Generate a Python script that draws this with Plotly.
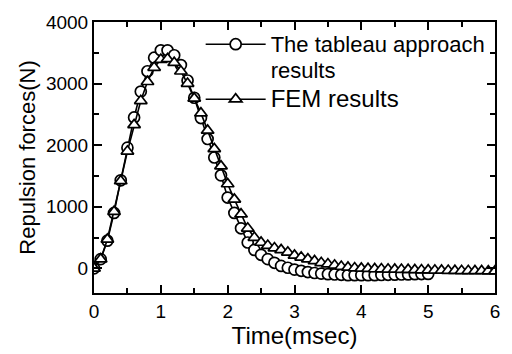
import plotly.graph_objects as go

t_tab = [round(0.1 * i, 1) for i in range(51)]
f_tab = [0, 150, 450, 900, 1430, 1960, 2450, 2870, 3200, 3420,
         3540, 3540, 3460, 3300, 3050, 2770, 2440, 2100, 1800, 1510,
         1150, 900, 650, 420, 300, 220, 150, 90, 40, 10,
         -20, -40, -60, -75, -85, -95, -100, -105, -110, -110,
         -110, -110, -110, -108, -105, -102, -100, -98, -95, -92, -90]

t_fem = [round(0.1 * i, 1) for i in range(61)]
f_fem = [0, 150, 470, 920, 1420, 1900, 2330, 2720, 3030, 3260,
         3390, 3400, 3340, 3200, 3000, 2760, 2520, 2240, 1940, 1660,
         1370, 1120, 880, 650, 500, 420, 370, 330, 300, 260,
         210, 180, 150, 120, 90, 70, 50, 30, 15, 5,
         0, -5, -10, -12, -15, -18, -20, -22, -25, -28,
         -30, -32, -34, -36, -38, -40, -40, -42, -42, -44, -45]

x_ticks = [0, 1, 2, 3, 4, 5, 6]
y_ticks = [0, 1000, 2000, 3000, 4000]

font = "Liberation Sans, Arial, sans-serif"

fig = go.Figure()
fig.add_trace(go.Scatter(
    x=t_tab, y=f_tab, mode="lines+markers",
    name='<span style="font-size:22px">The tableau approach</span><br>'
         '<span style="font-size:22px">results</span>',
    legendgroup="a",
    line=dict(color="black", width=1.6),
    marker=dict(symbol="circle", size=11, color="white",
                line=dict(color="black", width=1.7)),
))
fig.add_trace(go.Scatter(
    x=t_fem, y=f_fem, mode="lines+markers",
    name='<span style="font-size:24px">FEM results</span>',
    legendgroup="b",
    line=dict(color="black", width=1.6),
    marker=dict(symbol="triangle-up", size=11, color="white",
                line=dict(color="black", width=1.7)),
))

axis_common = dict(
    showgrid=False, zeroline=False, showline=True, linecolor="black",
    linewidth=2, mirror="ticks", ticks="inside", ticklen=8, tickwidth=1.5,
    tickcolor="black", tickfont=dict(family=font, size=19, color="black"),
)

fig.update_xaxes(
    range=[0, 6], tickvals=x_ticks,
    minor=dict(dtick=0.5, ticks="inside", ticklen=5, tickwidth=1.5, tickcolor="black"),
    title=dict(text="Time(msec)", font=dict(family=font, size=24, color="black"), standoff=2),
    **axis_common,
)
fig.update_yaxes(
    range=[-400, 4000], tickvals=y_ticks,
    minor=dict(dtick=500, ticks="inside", ticklen=5, tickwidth=1.5, tickcolor="black"),
    title=dict(text="Repulsion forces(N)", font=dict(family=font, size=22, color="black"), standoff=4),
    **axis_common,
)

fig.update_layout(
    width=512, height=354,
    margin=dict(l=94, r=12, t=16, b=61),
    plot_bgcolor="white", paper_bgcolor="white",
    font=dict(family=font, color="black"),
    showlegend=True,
    legend=dict(
        x=0.266, y=0.99, xanchor="left", yanchor="top",
        bgcolor="rgba(0,0,0,0)", borderwidth=0,
        font=dict(family=font, size=20, color="black"),
        itemwidth=60, tracegroupgap=1, valign="top",
        traceorder="normal",
    ),
)

fig.write_html("out.html")
